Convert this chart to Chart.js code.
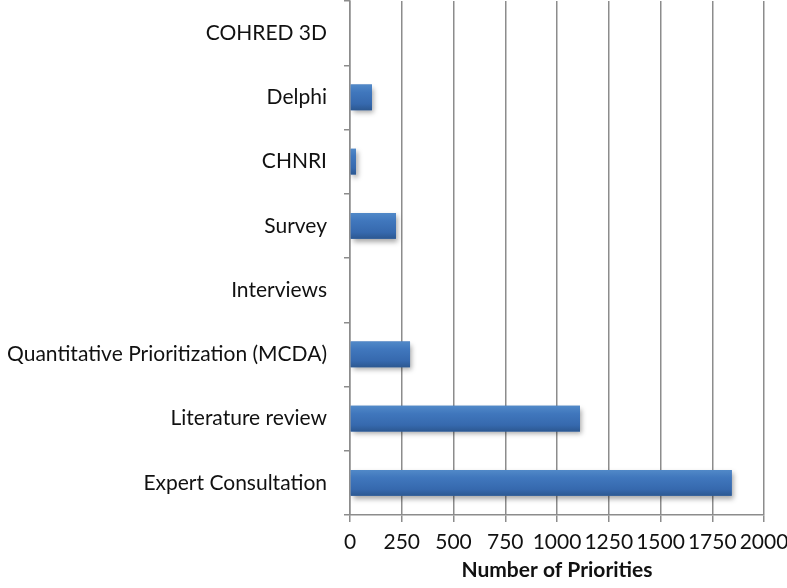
<!DOCTYPE html>
<html>
<head>
<meta charset="utf-8">
<script src="https://cdn.jsdelivr.net/npm/chart.js@4.4.0/dist/chart.umd.min.js"></script>
<style>
  html, body { margin: 0; padding: 0; background: #fff; }
  #wrap { width: 787px; height: 588px; position: relative; }
</style>
</head>
<body>
<div id="wrap"><canvas id="methodsChart"></canvas></div>
<script>
// data
const methodLabels = ['COHRED 3D', 'Delphi', 'CHNRI', 'Survey', 'Interviews', 'Quantitative Prioritization (MCDA)', 'Literature review', 'Expert Consultation'];
const priorityCounts = [0, 106, 29, 222, 0, 290, 1111, 1844];
const xTicks = [0, 250, 500, 750, 1000, 1250, 1500, 1750, 2000];

const fontFamily = 'Lato, "Open Sans", sans-serif';
const gridGray = '#8c8c8c';

// soft drop shadow + vertical shading like the old office style bars
const barStylePlugin = {
    id: 'barStyle',
    beforeDatasetDraw(chart) {
        const ctx = chart.ctx;
        ctx.save();
        ctx.shadowColor = 'rgba(0,0,0,0.35)';
        ctx.shadowBlur = 5;
        ctx.shadowOffsetX = 2;
        ctx.shadowOffsetY = 3;
    },
    afterDatasetDraw(chart) {
        const ctx = chart.ctx;
        ctx.restore();
        const meta = chart.getDatasetMeta(0);
        meta.data.forEach(bar => {
            const p = bar.getProps(['x', 'y', 'base', 'height'], true);
            const w = p.x - p.base;
            if (w <= 0.5) return;
            const top = p.y - p.height / 2;
            const g = ctx.createLinearGradient(0, top, 0, top + p.height);
            g.addColorStop(0, '#5189c8');
            g.addColorStop(0.3, '#4077bd');
            g.addColorStop(0.75, '#3669ae');
            g.addColorStop(1, '#2c5891');
            ctx.save();
            ctx.fillStyle = g;
            ctx.fillRect(p.base, top, w, p.height);
            ctx.restore();
        });
    }
};

const ctx = document.getElementById('methodsChart').getContext('2d');
new Chart(ctx, {
    type: 'bar',
    data: {
        labels: methodLabels,
        datasets: [{ label: 'Number of Priorities', data: priorityCounts, backgroundColor: '#3a6fb5', categoryPercentage: 1, barPercentage: 0.4 }]
    },
    options: {
        indexAxis: 'y', responsive: true, maintainAspectRatio: false, animation: false,
        layout: { padding: { top: 1, right: 23, bottom: 0, left: 0 } },
        plugins: { legend: { display: false }, tooltip: { enabled: false } },
        scales: {
            x: {
                min: 0, max: 2000,
                afterBuildTicks: (scale) => { scale.ticks = xTicks.map(v => ({ value: v })); },
                afterFit: (scale) => { scale.height = 73; scale.paddingLeft = 0; scale.paddingRight = 0; },
                grid: { color: gridGray, lineWidth: 1.5, tickLength: 7, drawTicks: true },
                border: { color: gridGray, width: 1.5 },
                ticks: { color: '#111', font: { family: fontFamily, size: 21 }, padding: 8, maxRotation: 0, autoSkip: false, callback: (v) => String(v) },
                title: { display: true, text: 'Number of Priorities', color: '#111', font: { family: fontFamily, size: 21, weight: 'bold' }, padding: { top: 0, bottom: 5 } }
            },
            y: {
                afterFit: (scale) => { scale.width = 350; scale.paddingTop = 0; scale.paddingBottom = 0; },
                grid: { drawOnChartArea: false, color: gridGray, lineWidth: 1.5, tickLength: 6 },
                border: { color: gridGray, width: 1.5 },
                ticks: { color: '#111', font: { family: fontFamily, size: 21 }, padding: 17 }
            }
        }
    },
    plugins: [barStylePlugin]
});
</script>
</body>
</html>
